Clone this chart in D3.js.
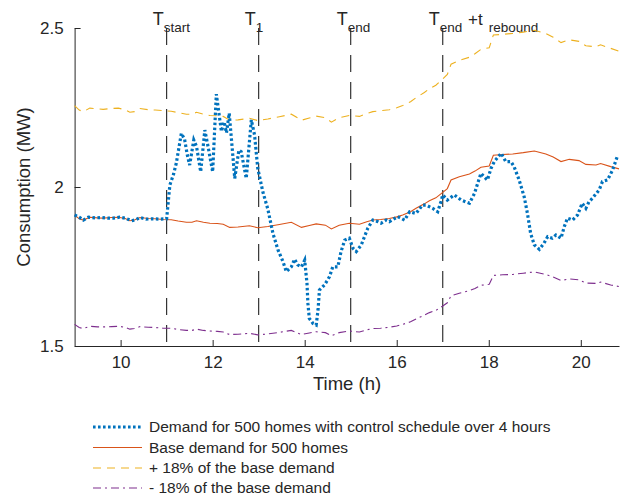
<!DOCTYPE html>
<html>
<head>
<meta charset="utf-8">
<script src="https://d3js.org/d3.v7.min.js"></script>
<style>
  body { margin: 0; background: white; }
  text { font-family: "Liberation Sans", Arial, sans-serif; fill: #262626; }
  .axis path, .axis line { stroke: #262626; }
  .line_ctrl { fill: none; stroke: #0072BD; stroke-width: 3.2; stroke-dasharray: 2.6,2.4; }
  .line_base { fill: none; stroke: #D95319; stroke-width: 1.1; }
  .line_up { fill: none; stroke: #EDB120; stroke-width: 1.1; stroke-dasharray: 8,6; }
  .line_lo { fill: none; stroke: #7E2F8E; stroke-width: 1.1; stroke-dasharray: 8,4,2,4; }
</style>
</head>
<body>
<svg class="chart" width="620" height="498"></svg>
<script>
// time (h) and MW values
var baseTime = [9.0,9.1,9.19,9.33,9.5,9.62,9.8,9.95,10.1,10.2,10.3,10.42,10.6,10.75,10.92,11.1,11.25,11.43,11.55,11.65,11.8,11.94,12.1,12.23,12.37,12.55,12.8,12.98,13.2,13.45,13.71,13.93,14.1,14.25,14.45,14.58,14.75,14.97,15.19,15.35,15.48,15.65,15.84,16.0,16.13,16.3,16.42,16.6,16.71,16.85,17.0,17.1,17.18,17.36,17.58,17.7,17.83,18.01,18.1,18.3,18.52,18.75,18.99,19.24,19.4,19.57,19.75,19.96,20.11,20.33,20.43,20.65,20.83];
var baseDemand = [1.912,1.900,1.896,1.905,1.903,1.902,1.904,1.905,1.901,1.894,1.896,1.904,1.901,1.900,1.898,1.897,1.893,1.889,1.889,1.894,1.889,1.886,1.885,1.883,1.873,1.874,1.878,1.872,1.876,1.882,1.889,1.873,1.879,1.884,1.880,1.868,1.880,1.886,1.883,1.891,1.896,1.898,1.901,1.906,1.912,1.922,1.933,1.947,1.957,1.966,1.983,1.995,2.022,2.032,2.041,2.050,2.062,2.066,2.100,2.102,2.104,2.108,2.113,2.104,2.094,2.080,2.087,2.083,2.071,2.069,2.074,2.064,2.057];
var upperDemand = [2.256,2.242,2.237,2.248,2.246,2.244,2.247,2.248,2.243,2.235,2.237,2.247,2.243,2.242,2.240,2.238,2.234,2.229,2.229,2.235,2.229,2.225,2.224,2.222,2.210,2.211,2.216,2.209,2.214,2.221,2.229,2.210,2.217,2.223,2.218,2.204,2.218,2.225,2.222,2.231,2.237,2.240,2.243,2.249,2.256,2.268,2.281,2.297,2.309,2.320,2.340,2.354,2.386,2.398,2.408,2.419,2.433,2.438,2.478,2.480,2.483,2.487,2.493,2.483,2.471,2.454,2.463,2.458,2.444,2.441,2.447,2.436,2.427];
var lowerDemand = [1.568,1.558,1.555,1.562,1.560,1.560,1.561,1.562,1.559,1.553,1.555,1.561,1.559,1.558,1.556,1.556,1.552,1.549,1.549,1.553,1.549,1.547,1.546,1.544,1.536,1.537,1.540,1.535,1.538,1.543,1.549,1.536,1.541,1.545,1.542,1.532,1.542,1.547,1.544,1.551,1.555,1.556,1.559,1.563,1.568,1.576,1.585,1.597,1.605,1.612,1.626,1.636,1.658,1.666,1.674,1.681,1.691,1.694,1.722,1.724,1.725,1.729,1.733,1.725,1.717,1.706,1.711,1.708,1.698,1.697,1.701,1.692,1.687];

var ctrlTime = [9.0,9.1,9.19,9.3,9.45,9.59,9.72,9.84,9.98,10.1,10.24,10.33,10.42,10.55,10.7,10.85,11.0,11.07,11.15,11.21,11.32,11.39,11.45,11.5,11.59,11.65,11.74,11.83,11.9,12.0,12.08,12.19,12.25,12.3,12.36,12.42,12.48,12.57,12.62,12.73,12.84,12.91,12.98,13.09,13.2,13.31,13.42,13.53,13.6,13.71,13.78,13.85,13.93,14.0,14.05,14.07,14.1,14.18,14.25,14.29,14.32,14.43,14.54,14.61,14.72,14.79,14.87,14.97,15.05,15.12,15.23,15.3,15.37,15.48,15.59,15.66,15.77,15.84,16.02,16.17,16.28,16.42,16.56,16.64,16.78,16.89,16.96,17.0,17.1,17.25,17.4,17.58,17.69,17.76,17.83,17.9,17.97,18.05,18.12,18.27,18.37,18.48,18.55,18.66,18.77,18.84,18.91,18.99,19.1,19.2,19.28,19.38,19.46,19.57,19.64,19.71,19.82,19.93,20.03,20.11,20.18,20.25,20.4,20.47,20.58,20.69,20.79];
var ctrlDemand = [1.912,1.905,1.896,1.905,1.903,1.904,1.902,1.902,1.905,1.902,1.894,1.897,1.904,1.899,1.900,1.899,1.900,2.006,2.040,2.075,2.169,2.150,2.100,2.069,2.148,2.127,2.048,2.179,2.127,2.048,2.292,2.175,2.205,2.170,2.232,2.130,2.027,2.116,2.111,2.027,2.211,2.164,2.059,1.985,1.930,1.854,1.802,1.765,1.734,1.749,1.773,1.755,1.749,1.770,1.697,1.634,1.587,1.571,1.566,1.613,1.676,1.692,1.718,1.749,1.749,1.797,1.833,1.839,1.807,1.797,1.818,1.844,1.870,1.896,1.891,1.886,1.896,1.891,1.907,1.896,1.922,1.917,1.943,1.943,1.933,1.922,1.954,1.975,1.959,1.975,1.959,1.949,1.980,2.012,2.043,2.032,2.022,2.059,2.080,2.106,2.080,2.080,2.064,2.022,1.969,1.917,1.854,1.818,1.804,1.823,1.844,1.839,1.849,1.839,1.875,1.902,1.896,1.912,1.949,1.933,1.954,1.964,1.991,2.017,2.022,2.053,2.095];

var eventTimes = [11, 13, 15, 17];
var eventLabels = [["T", "start", ""], ["T", "1", ""], ["T", "end", ""], ["T", "end", " +t", "rebound"]];
var xTicks = [10, 12, 14, 16, 18, 20];
var yTicks = [1.5, 2, 2.5];
var yTickLabels = ["1.5", "2", "2.5"];
var legendNames = ["Demand for 500 homes with control schedule over 4 hours", "Base demand for 500 homes", "+ 18% of the base demand", "- 18% of the base demand"];

var x = d3.scaleLinear().domain([9, 20.83]).range([74.6, 619]);
var y = d3.scaleLinear().domain([1.5, 2.5]).range([346, 28]);
var svg = d3.select(".chart");

function pts(ts, vs) { return ts.map(function(t, i) { return [t, vs[i]]; }); }
var line = d3.line().x(function(d) { return x(d[0]); }).y(function(d) { return y(d[1]); });

// axes, ticks pointing inward
svg.append("g").attr("class", "axis")
  .attr("transform", "translate(0,346)")
  .call(d3.axisBottom(x).tickValues(xTicks).tickSizeInner(-6).tickSizeOuter(0).tickPadding(10).tickFormat(d3.format("d")))
  .selectAll("text").style("font-size", "17px").style("font-family", "Liberation Sans");
svg.append("g").attr("class", "axis")
  .attr("transform", "translate(74.6,0)")
  .call(d3.axisLeft(y).tickValues(yTicks).tickSizeInner(-6).tickSizeOuter(0).tickPadding(11).tickFormat(function(d, i) { return yTickLabels[i]; }))
  .selectAll("text").style("font-size", "17px").style("font-family", "Liberation Sans");

// event markers
eventTimes.forEach(function(t, i) {
  svg.append("line")
    .attr("x1", x(t)).attr("x2", x(t))
    .attr("y1", y(2.5)).attr("y2", y(1.5))
    .style("stroke", "#222").style("stroke-width", 1.1)
    .style("stroke-dasharray", "17,10");
  var lab = svg.append("text").attr("x", x(t) - 14).attr("y", 25).style("font-size", "18px");
  var parts = eventLabels[i];
  lab.append("tspan").text(parts[0]);
  lab.append("tspan").attr("dy", 7).style("font-size", "13.5px").text(parts[1]);
  if (parts.length > 3) {
    lab.append("tspan").attr("dy", -7).attr("dx", 1).style("font-size", "17px").text(parts[2]);
    lab.append("tspan").attr("dy", 7).attr("dx", 6).style("font-size", "13.5px").text(parts[3]);
  }
});

svg.append("path").datum(pts(baseTime, upperDemand)).attr("class", "line_up").attr("d", line);
svg.append("path").datum(pts(baseTime, lowerDemand)).attr("class", "line_lo").attr("d", line);
svg.append("path").datum(pts(baseTime, baseDemand)).attr("class", "line_base").attr("d", line);
svg.append("path").datum(pts(ctrlTime, ctrlDemand)).attr("class", "line_ctrl").attr("d", line);

svg.append("text").attr("transform", "translate(30,187) rotate(-90)")
  .attr("text-anchor", "middle").style("font-size", "18.5px").text("Consumption (MW)");
svg.append("text").attr("x", 347).attr("y", 390)
  .attr("text-anchor", "middle").style("font-size", "18.5px").text("Time (h)");

// legend
var legendClass = ["line_ctrl", "line_base", "line_up", "line_lo"];
var legendY = [427, 447.5, 468, 488];
legendNames.forEach(function(name, i) {
  svg.append("line").attr("class", legendClass[i])
    .attr("x1", 93).attr("x2", 142).attr("y1", legendY[i]).attr("y2", legendY[i]);
  svg.append("text").attr("x", 149).attr("y", legendY[i]).attr("dy", "0.35em")
    .style("font-size", "15.5px").text(name);
});
</script>
</body>
</html>
